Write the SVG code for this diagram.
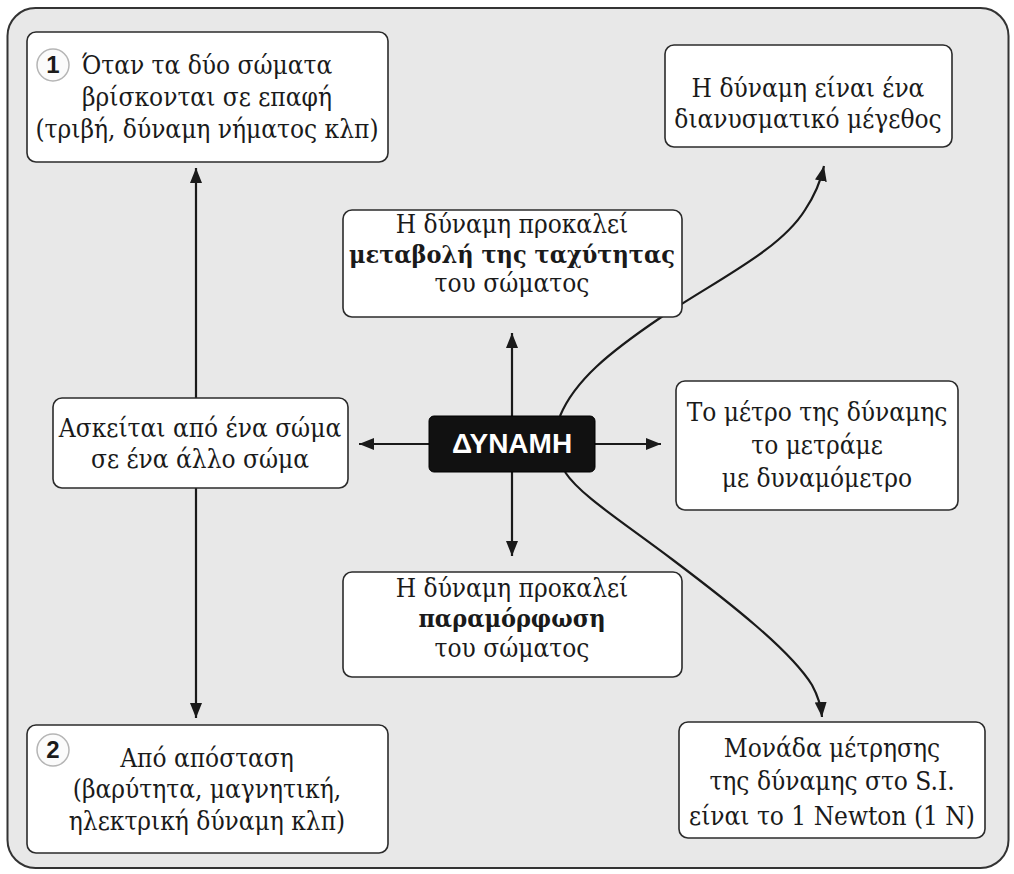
<svg xmlns="http://www.w3.org/2000/svg" width="1014" height="874" viewBox="0 0 1014 874">
<style>
.box{fill:#ffffff;stroke:#2b2b2b;stroke-width:1.6}
.t{font-family:"DejaVu Serif Condensed","DejaVu Serif","Liberation Serif",serif;font-size:26px;fill:#1a1a1a;text-anchor:middle}
.b{font-weight:bold;font-size:25px}
.num{font-family:"Liberation Sans",Arial,sans-serif;font-size:24px;font-weight:bold;fill:#1a1a1a;text-anchor:middle}
.circ{fill:#fbfbfb;stroke:#b5b5b5;stroke-width:1.5}
.c{fill:none;stroke:#1a1a1a;stroke-width:2.2}
</style>
<defs>
<marker id="ah" markerUnits="userSpaceOnUse" markerWidth="16" markerHeight="14" refX="15" refY="7" orient="auto-start-reverse">
<path d="M0,1 L15,7 L0,13 Z" fill="#1a1a1a"/>
</marker>
</defs>
<rect x="0" y="0" width="1014" height="874" fill="#ffffff"/>
<rect id="frame" x="7.5" y="8" width="1001" height="860" rx="28" fill="#e8e8e8" stroke="#333333" stroke-width="2"/>
<g id="connectors">
<path class="c" d="M196 168 L196 718" marker-start="url(#ah)" marker-end="url(#ah)"/>
<path class="c" d="M429 444 L359 444" marker-end="url(#ah)"/>
<path class="c" d="M595 444 L661 444" marker-end="url(#ah)"/>
<path class="c" d="M512 416 L512 333" marker-end="url(#ah)"/>
<path class="c" d="M512 472 L512 556" marker-end="url(#ah)"/>
<path class="c" d="M560 416 C575 380 610 352 660 318 C720 278 780 250 805 210 C815 195 821 180 824 166" marker-end="url(#ah)"/>
<path class="c" d="M565 472 C580 495 620 520 673 560 C730 603 790 650 812 685 C818 696 821 705 822 717" marker-end="url(#ah)"/>
</g>
<g id="n1">
<rect class="box" x="27" y="32" width="361" height="130" rx="9"/>
<circle class="circ" cx="53" cy="65" r="16"/>
<text class="num" x="53" y="73">1</text>
<text class="t" x="207" y="74">Όταν τα δύο σώματα</text>
<text class="t" x="207" y="106">βρίσκονται σε επαφή</text>
<text class="t" x="207" y="138">(τριβή, δύναμη νήματος κλπ)</text>
</g>
<g id="n2">
<rect class="box" x="27" y="725" width="361" height="128" rx="9"/>
<circle class="circ" cx="53" cy="750" r="16"/>
<text class="num" x="53" y="758">2</text>
<text class="t" x="207" y="767">Από απόσταση</text>
<text class="t" x="207" y="798">(βαρύτητα, μαγνητική,</text>
<text class="t" x="207" y="830">ηλεκτρική δύναμη κλπ)</text>
</g>
<g id="n3">
<rect class="box" x="53" y="398" width="295" height="90" rx="9"/>
<text class="t" x="200" y="437">Ασκείται από ένα σώμα</text>
<text class="t" x="200" y="468">σε ένα άλλο σώμα</text>
</g>
<g id="n4">
<rect class="box" x="343" y="210" width="339" height="107" rx="9"/>
<text class="t" x="512" y="233">Η δύναμη προκαλεί</text>
<text class="t b" x="512" y="263">μεταβολή της ταχύτητας</text>
<text class="t" x="512" y="292">του σώματος</text>
</g>
<g id="n5">
<rect class="box" x="343" y="572" width="339" height="105" rx="9"/>
<text class="t" x="512" y="597">Η δύναμη προκαλεί</text>
<text class="t b" x="512" y="627">παραμόρφωση</text>
<text class="t" x="512" y="657">του σώματος</text>
</g>
<g id="n6">
<rect x="429" y="416" width="166" height="56" rx="5" fill="#111111" stroke="#000000" stroke-width="1"/>
<text x="512" y="453" font-family="Liberation Sans, Arial, sans-serif" font-size="28" font-weight="bold" fill="#ffffff" text-anchor="middle">ΔΥΝΑΜΗ</text>
</g>
<g id="n7">
<rect class="box" x="665" y="45" width="287" height="102" rx="9"/>
<text class="t" x="808" y="97">Η δύναμη είναι ένα</text>
<text class="t" x="808" y="128">διανυσματικό μέγεθος</text>
</g>
<g id="n8">
<rect class="box" x="676" y="381" width="282" height="129" rx="9"/>
<text class="t" x="817" y="421">Το μέτρο της δύναμης</text>
<text class="t" x="817" y="454">το μετράμε</text>
<text class="t" x="817" y="487">με δυναμόμετρο</text>
</g>
<g id="n9">
<rect class="box" x="679" y="722" width="306" height="116" rx="9"/>
<text class="t" x="832" y="757">Μονάδα μέτρησης</text>
<text class="t" x="832" y="790">της δύναμης στο S.I.</text>
<text class="t" x="832" y="825">είναι το 1 Newton (1 N)</text>
</g>
</svg>
